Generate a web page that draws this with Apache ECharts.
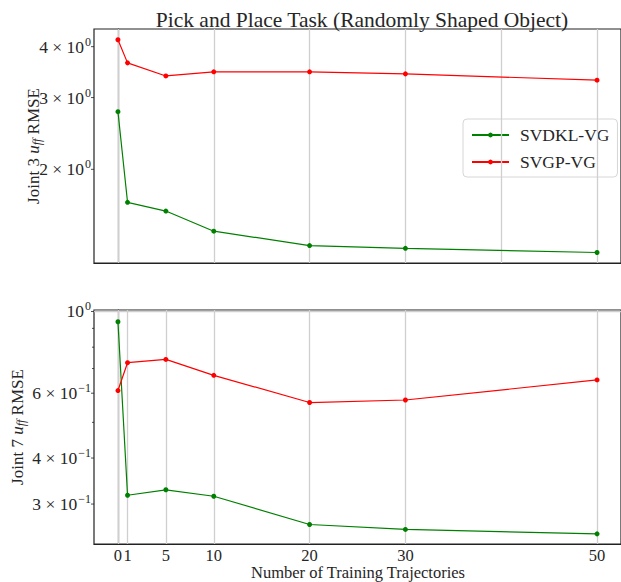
<!DOCTYPE html>
<html>
<head>
<meta charset="utf-8">
<script src="https://cdn.jsdelivr.net/npm/echarts@6/dist/echarts.min.js"></script>
<style>
html,body{margin:0;padding:0;background:#fff;}
#chart{width:621px;height:582px;}
</style>
</head>
<body>
<div id="chart"></div>
<script>
// ---- data ----
const xValues = [0, 1, 5, 10, 20, 30, 50];
const joint3SVDKL = [2.77, 1.66, 1.58, 1.41, 1.30, 1.28, 1.25];
const joint3SVGP = [4.16, 3.65, 3.39, 3.47, 3.47, 3.43, 3.31];
const joint7SVDKL = [0.938, 0.317, 0.328, 0.315, 0.264, 0.256, 0.249];
const joint7SVGP = [0.610, 0.726, 0.741, 0.671, 0.566, 0.575, 0.652];
const seriesNames = ['SVDKL-VG', 'SVGP-VG'];

// ---- ticks ----
const topYTicks = [4, 3, 2];
const topYTickLabels = ['4 × 10{s|0}', '3 × 10{s|0}', '2 × 10{s|0}'];
const bottomYTicks = [1, 0.6, 0.4, 0.3];
const bottomYTickLabels = ['10{s|0}', '6 × 10{s|−1}', '4 × 10{s|−1}', '3 × 10{s|−1}'];
const bottomYMinorTicks = [0.9, 0.8, 0.7, 0.5];
const topXGrid = [0, 10, 20, 30, 40, 50];
const bottomXTicks = [0, 1, 5, 10, 20, 30, 50];
const bottomXTickLabels = ['0', '1', '5', '10', '20', '30', '50'];
const bottomYGrid = [1];

const titleText = 'Pick and Place Task (Randomly Shaped Object)';
const xAxisTitle = 'Number of Training Trajectories';
const topYTitle = 'Joint 3 {i|u}{sub|ff} RMSE';
const bottomYTitle = 'Joint 7 {i|u}{sub|ff} RMSE';

const FONT = '"Liberation Serif", "DejaVu Serif", serif';
const TXT = '#262626';
const GREEN = '#008000';
const RED = '#ff0000';
const GRIDC = '#cfcfcf';

const chart = echarts.init(document.getElementById('chart'), null, {renderer: 'svg'});

function pairs(arr) { return xValues.map((x, i) => [x, arr[i]]); }

function dataSeries(name, arr, color, idx) {
  return {
    name: name, type: 'line', xAxisIndex: idx, yAxisIndex: idx,
    data: pairs(arr), symbol: 'circle', symbolSize: 5, showSymbol: true,
    lineStyle: {color: color, width: 1.2}, itemStyle: {color: color},
    z: 5, animation: false, silent: true
  };
}
function gridSeries(idx, xs, ys, arr) {
  const d = xs.map(v => ({xAxis: v})).concat(ys.map(v => ({yAxis: v})));
  return {
    type: 'line', xAxisIndex: idx, yAxisIndex: idx, data: pairs(arr),
    symbol: 'none', lineStyle: {opacity: 0}, silent: true, z: 1, animation: false,
    markLine: {silent: true, symbol: 'none', animation: false, label: {show: false},
      lineStyle: {color: GRIDC, width: 1.3, type: 'solid'}, data: d}
  };
}

const axisLineStyle = {show: true, lineStyle: {color: '#222', width: 1.2}};

const option = {
  animation: false,
  backgroundColor: '#fff',
  title: {text: titleText, left: 357, top: 4, textAlign: 'center',
    textStyle: {fontFamily: FONT, fontSize: 21.5, fontWeight: 'normal', color: TXT}},
  legend: {
    data: seriesNames, left: 463, top: 119, orient: 'vertical',
    itemWidth: 37, itemHeight: 6, itemGap: 9, padding: [7, 8, 6, 8],
    backgroundColor: 'rgba(255,255,255,0.85)', borderColor: '#d6d6d6', borderWidth: 1, borderRadius: 4,
    textStyle: {fontFamily: FONT, fontSize: 17.5, color: TXT, padding: [0, 0, 0, 6]},
    selectedMode: false
  },
  grid: [
    {left: 94, top: 29, width: 528, height: 234, show: true, borderColor: '#222', borderWidth: 1.2, backgroundColor: 'transparent'},
    {left: 94, top: 310, width: 528, height: 234, show: true, borderColor: '#222', borderWidth: 1.2, backgroundColor: 'transparent'}
  ],
  xAxis: [0, 1].map(i => ({
    type: 'value', gridIndex: i, min: -2.5, max: 52.5,
    axisLine: axisLineStyle, axisTick: {show: false}, axisLabel: {show: false}, splitLine: {show: false}
  })),
  yAxis: [
    {type: 'log', gridIndex: 0, logBase: 10, min: 1.178, max: 4.42,
     axisLine: axisLineStyle, axisTick: {show: false}, axisLabel: {show: false}, splitLine: {show: false}},
    {type: 'log', gridIndex: 1, logBase: 10, min: 0.2337, max: 1.0094,
     axisLine: axisLineStyle, axisTick: {show: false}, axisLabel: {show: false}, splitLine: {show: false}}
  ],
  series: [
    gridSeries(0, topXGrid, [], joint3SVDKL),
    gridSeries(1, bottomXTicks, bottomYGrid, joint7SVDKL),
    dataSeries(seriesNames[0], joint3SVDKL, GREEN, 0),
    dataSeries(seriesNames[1], joint3SVGP, RED, 0),
    dataSeries(seriesNames[0], joint7SVDKL, GREEN, 1),
    dataSeries(seriesNames[1], joint7SVGP, RED, 1)
  ]
};
chart.setOption(option);

// ---- custom tick labels positioned by the library's scales ----
const supRich = {s: {fontFamily: FONT, fontSize: 12, verticalAlign: 'top', lineHeight: 22, padding: [0, 0, 7, 1], color: TXT}};
const graphics = [];
function yLabel(gi, v, label, major) {
  const p = chart.convertToPixel({gridIndex: gi}, [-2.5, v]);
  graphics.push({type: 'line', silent: true, shape: {x1: p[0] - (major ? 3 : 2), y1: p[1], x2: p[0], y2: p[1]},
    style: {stroke: '#222', lineWidth: 0.8}});
  if (label) {
    graphics.push({type: 'text', silent: true, x: p[0] - 3, y: p[1],
      style: {text: label, fontFamily: FONT, fontSize: 17.5, fill: TXT, align: 'right', verticalAlign: 'middle',
        textAlign: 'right', textVerticalAlign: 'middle', rich: supRich}});
  }
}
topYTicks.forEach((v, i) => yLabel(0, v, topYTickLabels[i], true));
bottomYTicks.forEach((v, i) => yLabel(1, v, bottomYTickLabels[i], true));
bottomYMinorTicks.forEach(v => yLabel(1, v, null, false));
bottomXTicks.forEach((v, i) => {
  const p = chart.convertToPixel({gridIndex: 1}, [v, 0.2337]);
  graphics.push({type: 'text', silent: true, x: p[0], y: p[1] + 3,
    style: {text: bottomXTickLabels[i], fontFamily: FONT, fontSize: 16.5, lineHeight: 16, fill: TXT, align: 'center', verticalAlign: 'top',
      textAlign: 'center', textVerticalAlign: 'top'}});
});
const yTitleRich = {
  i: {fontFamily: FONT, fontSize: 17, fontStyle: 'italic', color: TXT},
  sub: {fontFamily: FONT, fontSize: 12, fontStyle: 'italic', verticalAlign: 'bottom', padding: [7, 0, 0, 0], color: TXT}
};
[[topYTitle, 33, 146], [bottomYTitle, 17, 427]].forEach(t => {
  graphics.push({type: 'text', silent: true, x: t[1], y: t[2], rotation: Math.PI / 2,
    style: {text: t[0], fontFamily: FONT, fontSize: 17, fill: TXT, align: 'center', verticalAlign: 'middle',
      textAlign: 'center', textVerticalAlign: 'middle', rich: yTitleRich}});
});
graphics.push({type: 'text', silent: true, x: 358, y: 572.5,
  style: {text: xAxisTitle, fontFamily: FONT, fontSize: 16.5, lineHeight: 15, fill: TXT, align: 'center', verticalAlign: 'middle',
    textAlign: 'center', textVerticalAlign: 'middle'}});
chart.setOption({graphic: graphics});
</script>
</body>
</html>
